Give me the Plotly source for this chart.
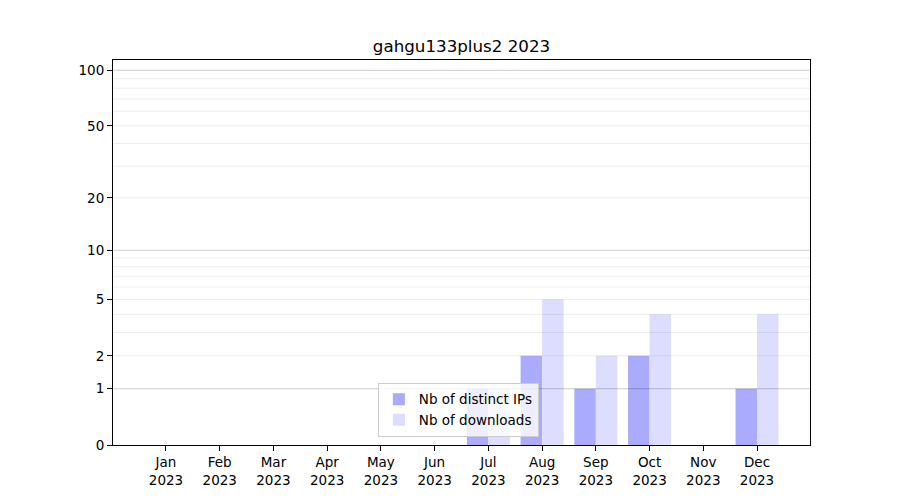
import numpy as np
import plotly.graph_objects as go

title = "gahgu133plus2 2023"
months = ["Jan", "Feb", "Mar", "Apr", "May", "Jun", "Jul", "Aug", "Sep", "Oct", "Nov", "Dec"]
year = "2023"
distinct_ips = [0, 0, 0, 0, 0, 0, 1, 2, 1, 2, 0, 1]
downloads = [0, 0, 0, 0, 0, 0, 1, 5, 2, 4, 0, 4]
ytick_vals = [0, 1, 2, 5, 10, 20, 50, 100]
major_grid = [1, 10, 100]
minor_grid = [2, 3, 4, 5, 6, 7, 8, 9, 20, 30, 40, 50, 60, 70, 80, 90]

cats = [f"{m}<br>{year}" for m in months]
font = "DejaVu Sans, Liberation Sans, sans-serif"

fig = go.Figure()
# log(1+x) scale: plotted on a log axis as value + 1
fig.add_trace(go.Bar(x=cats, y=np.array(distinct_ips) + 1, name="Nb of distinct IPs",
                     marker=dict(color="#aaaaff", line=dict(width=0))))
fig.add_trace(go.Bar(x=cats, y=np.array(downloads) + 1, name="Nb of downloads",
                     marker=dict(color="#ddddff", line=dict(width=0))))

shapes = []
for v in minor_grid:
    shapes.append(dict(type="line", xref="paper", x0=0, x1=1, yref="y", y0=v + 1, y1=v + 1,
                       line=dict(color="rgba(0,0,0,0.075)", width=1), layer="above"))
for v in major_grid:
    shapes.append(dict(type="line", xref="paper", x0=0, x1=1, yref="y", y0=v + 1, y1=v + 1,
                       line=dict(color="rgba(0,0,0,0.2)", width=1), layer="above"))

fig.update_layout(
    width=900, height=500,
    paper_bgcolor="white", plot_bgcolor="white",
    margin=dict(l=105, r=98, t=52, b=63),
    font=dict(family=font, size=13.5, color="black"),
    title=dict(text=title, x=0.5, xref="paper", xanchor="center", y=1 - 38 / 500, yanchor="middle",
               font=dict(size=16.7, family=font, color="black")),
    barmode="group", bargap=0.2, bargroupgap=0,
    shapes=shapes,
    legend=dict(x=0.38, y=0.021, xanchor="left", yanchor="bottom",
                bgcolor="rgba(255,255,255,0.8)", bordercolor="#cccccc", borderwidth=1,
                font=dict(size=13.5, family=font), tracegroupgap=0),
    showlegend=True,
)
fig.update_xaxes(type="category", range=[-0.986, 11.986], showline=True, linecolor="black",
                 linewidth=1, mirror=True, ticks="outside", ticklen=5, tickcolor="black",
                 showgrid=False, tickangle=0)
fig.update_yaxes(type="log", range=[0, 2.0594], showline=True, linecolor="black", linewidth=1,
                 mirror=True, ticks="outside", ticklen=5, tickcolor="black", showgrid=False,
                 tickvals=[v + 1 for v in ytick_vals], ticktext=[str(v) for v in ytick_vals],
                 zeroline=False)

fig.write_html("out.html")
